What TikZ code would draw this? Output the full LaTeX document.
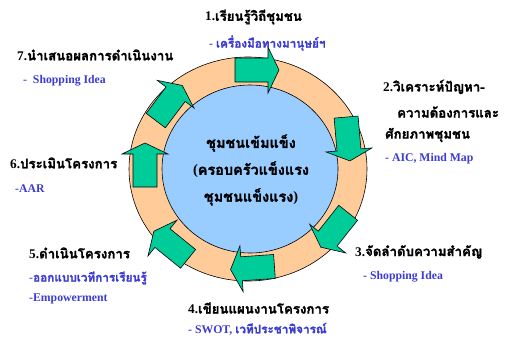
\documentclass[tikz,border=0pt]{standalone}
\usepackage{fontspec}
\setmainfont{Liberation Serif}
\newfontfamily\thai[Script=Thai, FakeBold=1.6]{Loma}
\definecolor{ringfill}{RGB}{255,204,153}
\definecolor{corefill}{RGB}{153,204,255}
\definecolor{arrfill}{RGB}{0,204,153}
\definecolor{bluetxt}{RGB}{60,60,210}
\tikzset{
  lbl/.style={anchor=west, inner sep=0pt, font=\bfseries\fontsize{13.3}{15}\selectfont},
  sublbl/.style={anchor=west, inner sep=0pt, text=bluetxt, font=\bfseries\fontsize{11.8}{13}\selectfont},
  blockarrow/.style={draw=black, fill=arrfill, line width=0.6pt, line join=miter},
  ringshape/.style={draw=black, line width=0.6pt},
}
\newcommand\cyclearrow[2]{\draw[blockarrow, shift={(#1)}, rotate=#2]
  (-22,-12) -- (11,-12) -- (11,-23) -- (22,0) -- (11,23) -- (11,12) -- (-22,12) -- cycle;}
\begin{document}
\begin{tikzpicture}[x=1bp, y=1bp]
\useasboundingbox (0,0) rectangle (510,343);
% ring and core
\draw[ringshape, fill=ringfill] (248,174) ellipse [x radius=119, y radius=112];
\draw[ringshape, fill=corefill] (250,174) ellipse [x radius=88, y radius=84];
% arrows
\cyclearrow{257,273}{0}
\cyclearrow{348,204}{-85}
\cyclearrow{334.5,113}{-128.5}
\cyclearrow{252.5,75}{184}
\cyclearrow{171,98}{141}
\cyclearrow{145,178}{90}
\cyclearrow{169,240}{53}
% centre text
\node[inner sep=0pt, align=center, font=\bfseries\fontsize{14.5}{27}\selectfont] (core) at (251,173)
  {\thai ชุมชนเข้มแข็ง\\(\thai ครอบครัวแข็งแรง\\\thai ชุมชนแข็งแรง\rmfamily)};
% labels
\node[lbl] (s1) at (205,326) {1.\thai เรียนรู้วิถีชุมชน};
\node[sublbl] (s1b) at (209,300) {- \thai เครื่องมือทางมานุษย์ฯ};
\node[lbl] (s2) at (383,256) {2.\thai วิเคราะห์ปัญหา-};
\node[lbl] (s2b) at (397,231) {\thai ความต้องการและ};
\node[lbl] (s2c) at (385,208) {\thai ศักยภาพชุมชน};
\node[sublbl] (s2d) at (385,184) {- AIC, Mind Map};
\node[lbl] (s3) at (355,91) {3.\thai จัดลำดับความสำคัญ};
\node[sublbl] (s3b) at (363,66) {- Shopping Idea};
\node[lbl] (s4) at (188,35) {4.\thai เขียนแผนงานโครงการ};
\node[sublbl] (s4b) at (188,14) {- SWOT, \thai เวทีประชาพิจารณ์};
\node[lbl] (s5) at (29,90) {5.\thai ดำเนินโครงการ};
\node[sublbl] (s5b) at (29,65) {-\thai ออกแบบเวทีการเรียนรู้};
\node[sublbl] (s5c) at (29,44) {-Empowerment};
\node[lbl] (s6) at (10,180) {6.\thai ประเมินโครงการ};
\node[sublbl] (s6b) at (15,154) {-AAR};
\node[lbl] (s7) at (17,288) {7.\thai นำเสนอผลการดำเนินงาน};
\node[sublbl] (s7b) at (23,262) {-\hspace{0.5em}Shopping Idea};
\end{tikzpicture}
\end{document}
